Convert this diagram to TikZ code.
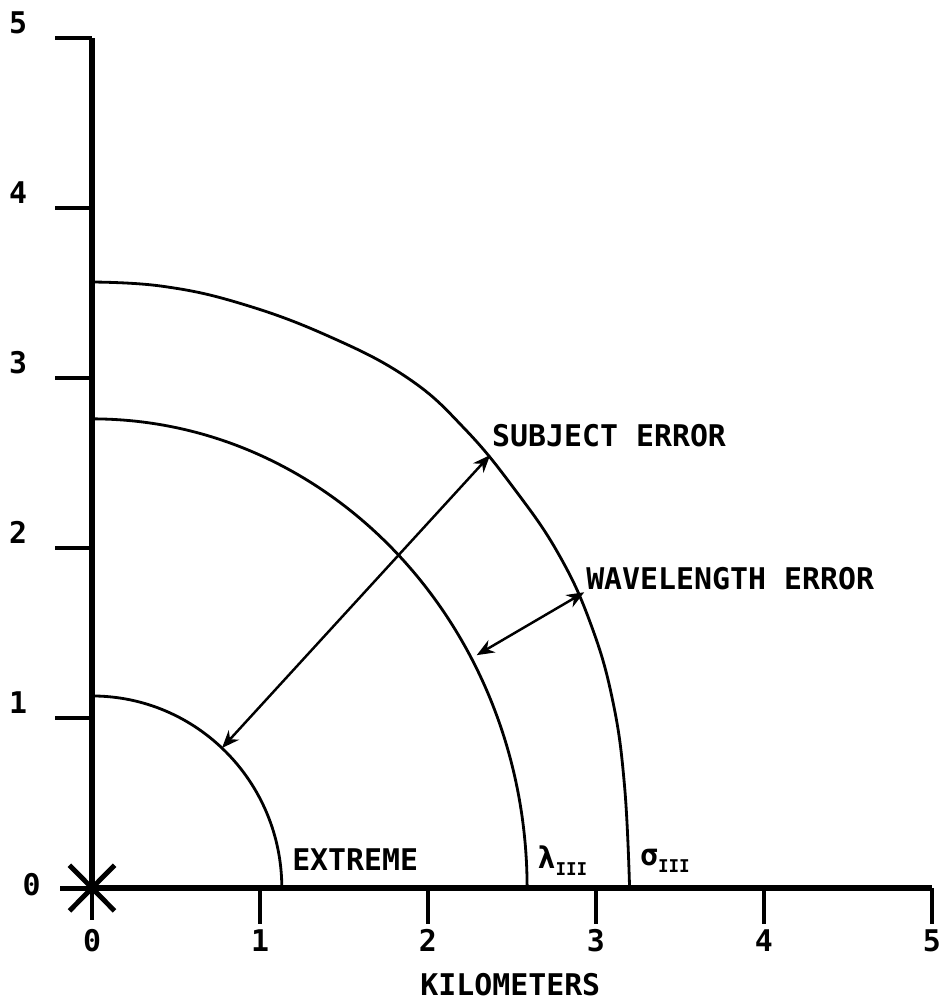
\documentclass[tikz,border=0pt]{standalone}
\usepackage{fontspec}
\setmainfont{DejaVu Sans Mono}
\usepackage{tikz}
\usetikzlibrary{arrows.meta}

\newcommand{\subIII}{\raisebox{-0.45ex}{\fontsize{10}{10}\selectfont\bfseries III}}

\begin{document}
\begin{tikzpicture}[x=3.36cm,y=3.4cm,
    axisline/.style={line width=3.8pt},
    tickmark/.style={line width=2pt},
    curve/.style={line width=1.6pt},
    errarrow/.style={line width=1.4pt,{Stealth[length=10pt,width=8pt]}-{Stealth[length=10pt,width=8pt]}},
    lbl/.style={font=\fontsize{17}{17}\selectfont\bfseries,inner sep=0pt}]
    \useasboundingbox (-0.5476,-0.682) rectangle (5.107,5.224);

    \coordinate (O) at (0,0);
    \coordinate (xend) at (5,0);
    \coordinate (yend) at (0,5);

    % axes
    \draw[axisline] (O) -- (xend);
    \draw[axisline] (O) -- (yend);

    % origin star
    \foreach \a in {0,45,...,315}
        \draw[line width=2.8pt] (O) -- ++(\a:0.19);

    % ticks
    \foreach \k in {1,...,5}{
        \coordinate (xt\k) at (\k,0);
        \coordinate (yt\k) at (0,\k);
        \draw[tickmark] (xt\k) -- ++(0,-0.21);
        \draw[tickmark] (yt\k) -- ++(-0.22,0);
        \node[lbl] (xl\k) at (\k,-0.31) {\k};
        \node[lbl] (yl\k) at (-0.44,\k+0.09) {\k};
    }
    \node[lbl] (xl0) at (0,-0.31) {0};
    \node[lbl] (yl0) at (-0.36,0.02) {0};
    \node[lbl] (xtitle) at (2.49,-0.57) {KILOMETERS};

    % contours
    \draw[curve] (1.13,0) arc[start angle=0,end angle=90,x radius=1.13,y radius=1.13];
    \draw[curve] (2.59,0) arc[start angle=0,end angle=90,x radius=2.59,y radius=2.76];
    \draw[curve] plot[smooth,tension=0.7] coordinates {(3.2,0) (3.17,0.6) (3.10,1.1)
        (2.97,1.55) (2.78,1.96) (2.52,2.34) (2.22,2.7) (1.88,3.0)
        (1.40,3.25) (0.88,3.44) (0.42,3.54) (0,3.565)};

    % error arrows
    \coordinate (extreme) at (0.774,0.824);
    \coordinate (outerA) at (2.37,2.547);
    \coordinate (lambdaB) at (2.29,1.37);
    \coordinate (outerB) at (2.93,1.74);
    \draw[errarrow] (extreme) -- (outerA);
    \draw[errarrow] (lambdaB) -- (outerB);

    % labels
    \node[lbl,anchor=west] (subj) at (2.38,2.66) {SUBJECT ERROR};
    \node[lbl,anchor=west] (wave) at (2.94,1.82) {WAVELENGTH ERROR};
    \node[lbl,anchor=west] (extr) at (1.19,0.165) {EXTREME};
    \node[lbl,anchor=west] (lam) at (2.65,0.16) {λ\subIII};
    \node[lbl,anchor=west] (sig) at (3.26,0.16) {σ\subIII};
\end{tikzpicture}
\end{document}
